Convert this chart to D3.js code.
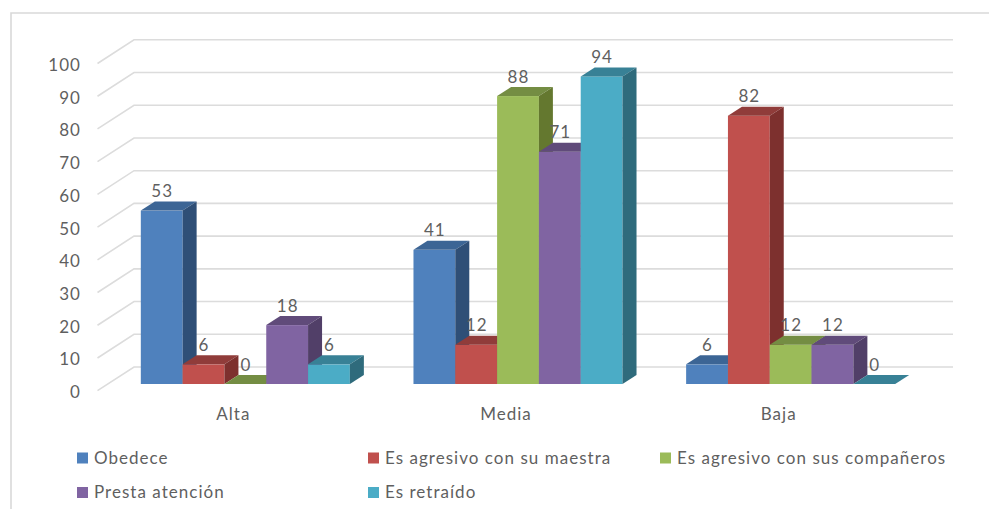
<!DOCTYPE html>
<html><head><meta charset="utf-8">
<script src="https://cdn.jsdelivr.net/npm/d3@7"></script>
<style>html,body{margin:0;padding:0;background:#fff}svg{display:block}
text{font-family:Lato,sans-serif;fill:#5f5f5f}</style></head>
<body><script>
const categories = ["Alta","Media","Baja"];
const seriesNames = ["Obedece","Es agresivo con su maestra","Es agresivo con sus compañeros","Presta atención","Es retraído"];
const obedece = [53,41,6];
const maestra = [6,12,82];
const companeros = [0,88,12];
const atencion = [18,71,12];
const retraido = [6,94,0];
const yTicks = [0,10,20,30,40,50,60,70,80,90,100];
const frontColors = ["#4F81BD","#C0504D","#9BBB59","#8064A2","#4BACC6"];
const topColors = ["#3C6595","#903C3A","#748D43","#604B7A","#388196"];
const sideColors = ["#2F4F77","#7D302E","#64782F","#513F68","#2F6B7C"];

const W=989,H=509;
const svg=d3.select("body").append("svg").attr("width",W).attr("height",H);
const values=[obedece,maestra,companeros,atencion,retraido];
const x=d3.scaleBand().domain(categories).range([97.5,915.5]).paddingInner(0.2333).paddingOuter(0.1167);
const xLab=d3.scaleBand().domain(categories).range([97,915]);
const xs=d3.scaleBand().domain(d3.range(seriesNames.length)).range([0,x.bandwidth()]);
const y=d3.scaleLinear().domain([0,100]).range([390.7,63.5]);
const wall={dx:36.5,dy:-23.7}, plane={dx:11.5,dy:-6.7}, depth={dx:14,dy:-9};
const fs=17, ls="1.03px";

svg.append("path").attr("d","M11,509V13H989").attr("fill","none").attr("stroke","#D9D9D9").attr("stroke-width",1.6);

const grid=svg.append("g").attr("fill","none").attr("stroke","#DCDCDC").attr("stroke-width",1.6);
yTicks.forEach(t=>{
  const y0=y(t);
  grid.append("path").attr("d",`M97.5,${y0}L${97.5+wall.dx},${y0+wall.dy}H953`);
});

const yAxis=d3.axisLeft(y).tickValues(yTicks).tickSize(0).tickPadding(0);
const ya=svg.append("g").attr("transform","translate(81,1.5)").call(yAxis);
ya.select(".domain").remove();
ya.selectAll("text").attr("font-size",fs).style("letter-spacing",ls).style("font-family","Lato,sans-serif");

const xAxis=d3.axisBottom(xLab).tickSize(0).tickPadding(0);
const xa=svg.append("g").attr("transform","translate(0,408)").call(xAxis);
xa.select(".domain").remove();
xa.selectAll("text").attr("font-size",fs).style("letter-spacing",ls).style("font-family","Lato,sans-serif");

const barBase=y(0)+plane.dy;
const k=(y(0)-y(1));
categories.forEach((c,ci)=>{
  const g=svg.append("g");
  values.forEach((vals,si)=>{
    const v=vals[ci];
    const x0=x(c)+plane.dx+xs(si), bw=xs.bandwidth(), x1=x0+bw;
    const top=barBase-v*k;
    g.append("rect").attr("x",x0).attr("y",top).attr("width",bw).attr("height",barBase-top).attr("fill",frontColors[si]);
    g.append("path").attr("d",`M${x0},${top}L${x0+depth.dx},${top+depth.dy}H${x1+depth.dx}L${x1},${top}Z`).attr("fill",topColors[si]);
    g.append("path").attr("d",`M${x1},${top}L${x1+depth.dx},${top+depth.dy}V${barBase+depth.dy}L${x1},${barBase}Z`).attr("fill",sideColors[si]);
  });
});
categories.forEach((c,ci)=>{
  values.forEach((vals,si)=>{
    const v=vals[ci];
    svg.append("text").attr("x",x(c)+plane.dx+xs(si)+xs.bandwidth()/2+0.5).attr("y",barBase-v*k-19.5)
      .attr("dy","0.36em").attr("text-anchor","middle").attr("font-size",fs).style("letter-spacing",ls).text(v);
  });
});

const legendPos=[[77,458],[368,458],[660,458],[77,492.5],[368,492.5]];
seriesNames.forEach((n,i)=>{
  const [lx,ly]=legendPos[i];
  svg.append("rect").attr("x",lx).attr("y",ly-5.5).attr("width",11).attr("height",11).attr("fill",frontColors[i]);
  svg.append("text").attr("x",lx+17).attr("y",ly).attr("dy","0.34em").attr("font-size",fs).style("letter-spacing",ls).text(n);
});
</script></body></html>
